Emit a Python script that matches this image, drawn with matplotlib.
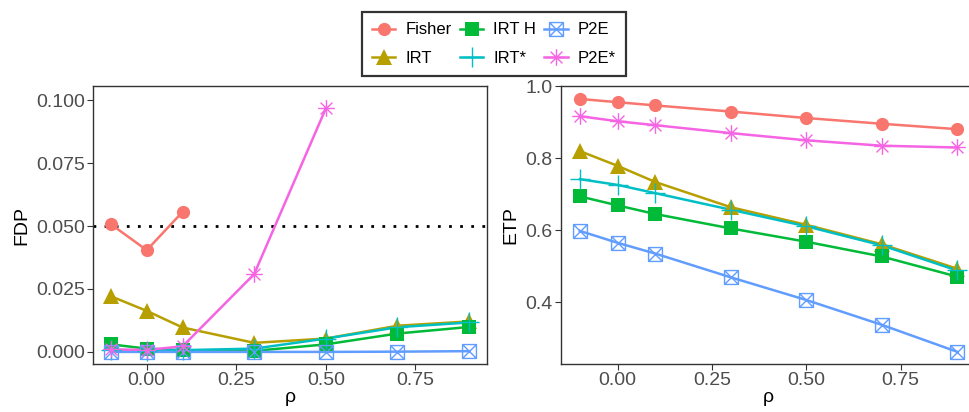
import numpy as np
import matplotlib
matplotlib.use("Agg")
import matplotlib.pyplot as plt
from matplotlib.path import Path
from matplotlib.lines import Line2D

plt.rcParams['font.family'] = ['Liberation Sans', 'DejaVu Sans']

rho = [-0.1, 0.0, 0.1, 0.3, 0.5, 0.7, 0.9]
methods = ["Fisher", "IRT", "IRT H", "IRT*", "P2E", "P2E*"]

fdp_fisher = [0.0507, 0.0404, 0.0556, np.nan, np.nan, np.nan, np.nan]
fdp_irt = [0.0221, 0.0163, 0.0097, 0.0036, 0.0053, 0.0104, 0.0121]
fdp_irth = [0.0030, 0.0013, 0.0007, 0.0004, 0.0030, 0.0073, 0.0099]
fdp_irtstar = [0.0008, 0.0005, 0.0007, 0.0013, 0.0053, 0.0098, 0.0117]
fdp_p2e = [0.0000, 0.0000, 0.0000, 0.0000, 0.0000, 0.0001, 0.0003]
fdp_p2estar = [0.0010, 0.0008, 0.0022, 0.0309, 0.0967, np.nan, np.nan]

etp_fisher = [0.965, 0.956, 0.947, 0.930, 0.912, 0.896, 0.881]
etp_irt = [0.820, 0.779, 0.734, 0.664, 0.615, 0.561, 0.493]
etp_irth = [0.694, 0.669, 0.645, 0.605, 0.568, 0.527, 0.471]
etp_irtstar = [0.742, 0.726, 0.703, 0.657, 0.611, 0.558, 0.488]
etp_p2e = [0.598, 0.565, 0.535, 0.469, 0.406, 0.337, 0.262]
etp_p2estar = [0.917, 0.903, 0.892, 0.870, 0.850, 0.835, 0.830]

fdp_target = 0.05

colors = ["#F8766D", "#B79F00", "#00BA38", "#00BFC4", "#619CFF", "#F564E3"]

sqx = Path([(-1, -1), (1, -1), (1, 1), (-1, 1), (-1, -1), (-1, -1), (1, 1), (-1, 1), (1, -1)],
           [Path.MOVETO, Path.LINETO, Path.LINETO, Path.LINETO, Path.CLOSEPOLY,
            Path.MOVETO, Path.LINETO, Path.MOVETO, Path.LINETO])
ast = Path([(0, -1), (0, 1), (-1, 0), (1, 0), (-0.71, -0.71), (0.71, 0.71), (-0.71, 0.71), (0.71, -0.71)],
           [Path.MOVETO, Path.LINETO, Path.MOVETO, Path.LINETO, Path.MOVETO, Path.LINETO, Path.MOVETO, Path.LINETO])

styles = [
    dict(marker='o', ms=9.5, mfc=None, mew=0),
    dict(marker='^', ms=11, mfc=None, mew=0),
    dict(marker='s', ms=9.5, mfc=None, mew=0),
    dict(marker='+', ms=14, mfc=None, mew=1.0),
    dict(marker=sqx, ms=10, mfc='none', mew=1.0),
    dict(marker=ast, ms=12, mfc='none', mew=1.0),
]

fig = plt.figure(figsize=(9.7, 4.12), dpi=100)
axL = fig.add_axes([93/970, 1-364/412, (487-93)/970, (364-86)/412])
axR = fig.add_axes([561/970, 1-364/412, (976-561)/970, (364-86)/412])

fdp_all = [fdp_fisher, fdp_irt, fdp_irth, fdp_irtstar, fdp_p2e, fdp_p2estar]
etp_all = [etp_fisher, etp_irt, etp_irth, etp_irtstar, etp_p2e, etp_p2estar]

for ax, data in [(axL, fdp_all), (axR, etp_all)]:
    for i, (name, vals) in enumerate(zip(methods, data)):
        c = colors[i]
        st = styles[i]
        ax.plot(rho, vals, color=c, lw=1.8, zorder=2)
        mfc = c if st['mfc'] is None else st['mfc']
        ax.plot(rho, vals, ls='none', marker=st['marker'], ms=st['ms'], mfc=mfc,
                mec=c, mew=st['mew'], zorder=3)

handles = []
for i, name in enumerate(methods):
    st = styles[i]
    c = colors[i]
    mfc = c if st['mfc'] is None else st['mfc']
    handles.append(Line2D([], [], color=c, lw=1.8, marker=st['marker'], ms=st['ms'],
                          mfc=mfc, mec=c, mew=st['mew'], label=name))

axL.axhline(fdp_target, color='black', ls=(0, (1, 3)), lw=2, zorder=1)

axL.set_xlim(-0.15, 0.95)
axL.set_ylim(-0.0048, 0.1056)
axL.set_yticks([0, 0.025, 0.05, 0.075, 0.1])
axL.set_yticklabels(["0.000", "0.025", "0.050", "0.075", "0.100"])
axL.set_ylabel("FDP", fontsize=14, labelpad=4)

axR.set_xlim(-0.15, 0.95)
axR.set_ylim(0.228, 1.001)
axR.set_yticks([0.4, 0.6, 0.8, 1.0])
axR.set_yticklabels(["0.4", "0.6", "0.8", "1.0"])
axR.set_ylabel("ETP", fontsize=14, labelpad=4)

for ax in (axL, axR):
    ax.set_xticks([0, 0.25, 0.5, 0.75])
    ax.set_xticklabels(["0.00", "0.25", "0.50", "0.75"])
    ax.set_xlabel("ρ", fontsize=14, labelpad=0)
    ax.tick_params(axis='both', labelsize=14, labelcolor='#4D4D4D', color='#333333',
                   length=4, width=0.8, pad=2)
    for s in ax.spines.values():
        s.set_color('#333333')
        s.set_linewidth(1.0)

leg = fig.legend(handles=handles, ncol=3, loc='center', bbox_to_anchor=(494/970, 1-44/412),
                 fontsize=12, frameon=True, fancybox=False, edgecolor='black',
                 handlelength=1.4, columnspacing=0.5, handletextpad=0.6, borderpad=0.6,
                 labelspacing=0.8)
leg.get_frame().set_linewidth(1.6)

fig.savefig("out.png", dpi=100)
